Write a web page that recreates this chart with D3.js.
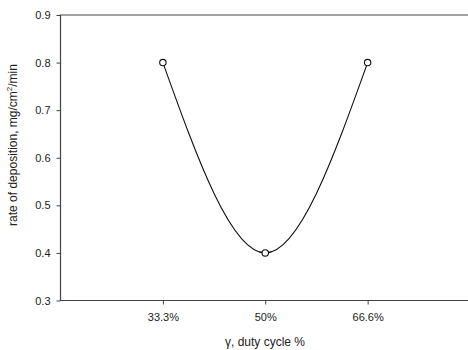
<!DOCTYPE html>
<html>
<head>
<meta charset="utf-8">
<script src="https://cdn.jsdelivr.net/npm/d3@7"></script>
<style>
  html, body { margin: 0; padding: 0; background: #fff; }
  svg { display: block; }
  text { font-family: "Liberation Sans", Arial, sans-serif; fill: #222; }
</style>
</head>
<body>
<svg id="chart" width="468" height="350"></svg>
<script>
// Duty cycle categories and measured deposition rates
const dutyCycles = ["33.3%", "50%", "66.6%"];
const depositionRates = [0.8, 0.4, 0.8];
const yTicks = [0.3, 0.4, 0.5, 0.6, 0.7, 0.8, 0.9];

const svg = d3.select("#chart");
const plotLeft = 60.5, plotRight = 470, plotTop = 15, plotBottom = 300.5;

const x = d3.scalePoint().domain(dutyCycles).range([plotLeft, plotRight]).padding(1);
const y = d3.scaleLinear().domain([0.3, 0.9]).range([plotBottom, plotTop]);

const axisColor = "#444";

// Y axis
const yAxis = svg.append("g")
  .attr("transform", `translate(${plotLeft},0)`)
  .call(d3.axisLeft(y).tickValues(yTicks).tickFormat(d3.format(".1f")).tickSize(4).tickPadding(6));
yAxis.select(".domain").remove();
yAxis.selectAll(".tick line").attr("stroke", axisColor);
yAxis.selectAll(".tick text").attr("font-size", 11).attr("fill", "#222");

// X axis
const xAxis = svg.append("g")
  .attr("transform", `translate(0,${plotBottom})`)
  .call(d3.axisBottom(x).tickSize(4).tickPadding(9));
xAxis.select(".domain").remove();
xAxis.selectAll(".tick line").attr("stroke", axisColor);
xAxis.selectAll(".tick text").attr("font-size", 11).attr("fill", "#222");

// Frame lines: left, top, bottom
svg.append("path")
  .attr("d", `M${plotRight},${plotTop}H${plotLeft}V${plotBottom}H${plotRight}`)
  .attr("fill", "none")
  .attr("stroke", axisColor)
  .attr("stroke-width", 1.2);

// Smooth curve through the data points
const pts = dutyCycles.map((c, i) => [x(c), y(depositionRates[i])]);
svg.append("path")
  .attr("d", d3.line().curve(d3.curveNatural)(pts))
  .attr("fill", "none")
  .attr("stroke", "#111")
  .attr("stroke-width", 1.1);

// Markers
svg.selectAll("circle.pt")
  .data(pts)
  .join("circle")
  .attr("class", "pt")
  .attr("cx", d => d[0])
  .attr("cy", d => d[1])
  .attr("r", 3.2)
  .attr("fill", "#fff")
  .attr("stroke", "#111")
  .attr("stroke-width", 1.1);

// Axis titles
const yTitle = svg.append("text")
  .attr("transform", `translate(17,145) rotate(-90)`)
  .attr("text-anchor", "middle")
  .attr("font-size", 12);
yTitle.append("tspan").text("rate of deposition, mg/cm");
yTitle.append("tspan").attr("font-size", 8).attr("dy", -5).text("2");
yTitle.append("tspan").attr("dy", 5).text("/min");

svg.append("text")
  .attr("x", 265)
  .attr("y", 346)
  .attr("text-anchor", "middle")
  .attr("font-size", 12)
  .text("γ, duty cycle %");
</script>
</body>
</html>
